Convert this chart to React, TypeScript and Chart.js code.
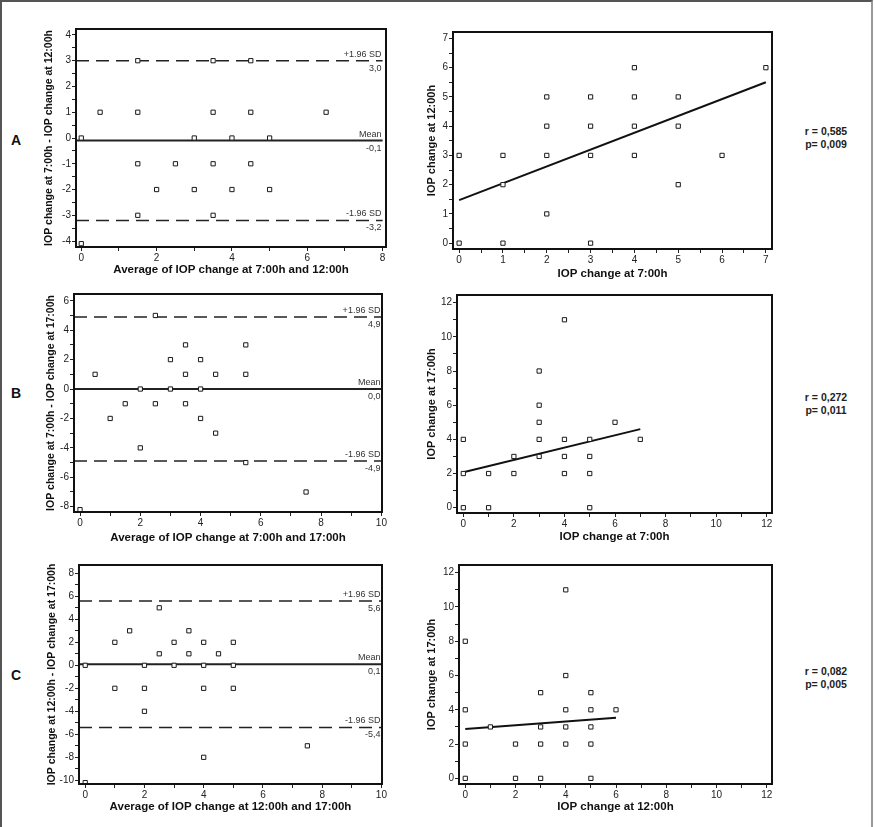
import React, { useEffect, useRef } from "react";
import { Chart, registerables } from "chart.js";

Chart.register(...registerables);

const FONT = "'Liberation Sans', Arial, Helvetica, sans-serif";

// ---------------- Panel A ----------------
const aBaAvg = [1.5, 3.5, 4.5, 0.5, 1.5, 3.5, 4.5, 6.5, 0, 3, 4, 5, 1.5, 2.5, 3.5, 4.5, 2, 3, 4, 5, 1.5, 3.5, 0];
const aBaDiff = [3, 3, 3, 1, 1, 1, 1, 1, 0, 0, 0, 0, -1, -1, -1, -1, -2, -2, -2, -2, -3, -3, -4.1];
const aBaLimits = [3.0, -0.1, -3.2];
const aBaLimitText = ["3,0", "-0,1", "-3,2"];
const aScX = [0, 0, 1, 1, 1, 2, 2, 2, 2, 3, 3, 3, 3, 4, 4, 4, 4, 5, 5, 5, 6, 7];
const aScY = [3, 0, 3, 2, 0, 5, 4, 3, 1, 5, 4, 3, 0, 6, 5, 4, 3, 5, 4, 2, 3, 6];
const aFitX = [0, 7];
const aFitY = [1.47, 5.5];
const aStats = ["r = 0,585", "p= 0,009"];

// ---------------- Panel B ----------------
const bBaAvg = [2.5, 3.5, 5.5, 3, 4, 0.5, 3.5, 4.5, 5.5, 2, 3, 4, 1.5, 2.5, 3.5, 1, 4, 4.5, 2, 5.5, 7.5, 0];
const bBaDiff = [5, 3, 3, 2, 2, 1, 1, 1, 1, 0, 0, 0, -1, -1, -1, -2, -2, -3, -4, -5, -7, -8.2];
const bBaLimits = [4.9, 0.0, -4.9];
const bBaLimitText = ["4,9", "0,0", "-4,9"];
const bScX = [0, 0, 0, 1, 1, 2, 2, 3, 3, 3, 3, 3, 4, 4, 4, 4, 5, 5, 5, 5, 6, 7];
const bScY = [4, 2, 0, 2, 0, 3, 2, 8, 6, 5, 4, 3, 11, 4, 3, 2, 4, 3, 2, 0, 5, 4];
const bFitX = [0, 7];
const bFitY = [2.07, 4.6];
const bStats = ["r = 0,272", "p= 0,011"];

// ---------------- Panel C ----------------
const cBaAvg = [2.5, 1.5, 3.5, 1, 3, 4, 5, 2.5, 3.5, 4.5, 0, 2, 3, 4, 5, 1, 2, 4, 5, 2, 7.5, 4, 0];
const cBaDiff = [5, 3, 3, 2, 2, 2, 2, 1, 1, 1, 0, 0, 0, 0, 0, -2, -2, -2, -2, -4, -7, -8, -10.2];
const cBaLimits = [5.6, 0.1, -5.4];
const cBaLimitText = ["5,6", "0,1", "-5,4"];
const cScX = [0, 0, 0, 0, 1, 2, 2, 3, 3, 3, 3, 4, 4, 4, 4, 4, 5, 5, 5, 5, 5, 6];
const cScY = [8, 4, 2, 0, 3, 2, 0, 5, 3, 2, 0, 11, 6, 4, 3, 2, 5, 4, 3, 2, 0, 4];
const cFitX = [0, 6];
const cFitY = [2.88, 3.54];
const cStats = ["r = 0,082", "p= 0,005"];

const limitNames = ["+1.96 SD", "Mean", "-1.96 SD"];

// ---------------- Tick labels ----------------
const aBaXLabels = [0, 2, 4, 6, 8];
const aBaYLabels = [-4, -3, -2, -1, 0, 1, 2, 3, 4];
const aScXLabels = [0, 1, 2, 3, 4, 5, 6, 7];
const aScYLabels = [0, 1, 2, 3, 4, 5, 6, 7];
const bBaXLabels = [0, 2, 4, 6, 8, 10];
const bBaYLabels = [-8, -6, -4, -2, 0, 2, 4, 6];
const cBaYLabels = [-10, -8, -6, -4, -2, 0, 2, 4, 6, 8];
const scXLabels12 = [0, 2, 4, 6, 8, 10, 12];
const scYLabels12 = [0, 2, 4, 6, 8, 10, 12];

function steps(labels: number[], step: number): number[] {
  const out: number[] = [];
  const a = labels[0];
  const b = labels[labels.length - 1];
  const n = Math.round((b - a) / step);
  for (let i = 0; i <= n; i++) out.push(a + i * step);
  return out;
}

type AxisSpec = {
  min: number;
  max: number;
  labels: number[];
  minor: number;
  title: string;
  titleSize: number;
};

type Geom = { l: number; t: number; r: number; b: number; yTitleX: number; xTitleY: number };

type PanelProps = {
  geom: Geom;
  x: AxisSpec;
  y: AxisSpec;
  px: number[];
  py: number[];
  fitX?: number[];
  fitY?: number[];
  limits?: number[];
  limitText?: string[];
  lineX?: number[];
};

function axisOpts(a: AxisSpec, isX: boolean, fitSize: number): any {
  const tickVals = steps(a.labels, a.minor);
  return {
    type: "linear",
    position: isX ? "bottom" : "left",
    min: a.min,
    max: a.max,
    afterBuildTicks: (s: any) => {
      s.ticks = tickVals.map((v) => ({ value: v }));
    },
    afterFit: (s: any) => {
      if (isX) s.height = fitSize;
      else s.width = fitSize;
    },
    ticks: {
      autoSkip: false,
      maxRotation: 0,
      minRotation: 0,
      padding: 1,
      font: { family: FONT, size: 10 },
      color: "#222",
      callback: (v: number) => (a.labels.indexOf(v) >= 0 ? String(v) : ""),
    },
    grid: {
      display: true,
      drawOnChartArea: false,
      drawTicks: true,
      tickLength: 4,
      color: "#222",
      lineWidth: 1,
    },
    border: { display: false },
    title: {
      display: true,
      text: a.title,
      font: { family: FONT, size: a.titleSize, weight: "bold" },
      color: "#111",
      padding: 0,
    },
  };
}

function Panel(p: PanelProps) {
  const ref = useRef<HTMLCanvasElement>(null);
  const g = p.geom;
  const padT = 8;
  const padR = 10;
  const cl = Math.floor(g.yTitleX - p.y.titleSize * 0.6);
  const ct = g.t - padT;
  const cr = g.r + padR;
  const cb = Math.ceil(g.xTitleY + p.x.titleSize * 0.6);
  const W = cr - cl;
  const H = cb - ct;

  useEffect(() => {
    const datasets: any[] = [];
    datasets.push({
      type: "scatter",
      data: p.px.map((v, i) => ({ x: v, y: p.py[i] })),
      pointStyle: "rect",
      pointRadius: 3,
      pointBackgroundColor: "#ffffff",
      pointBorderColor: "#1a1a1a",
      pointBorderWidth: 1,
      order: 0,
    });
    if (p.fitX && p.fitY) {
      datasets.push({
        type: "scatter",
        showLine: true,
        data: p.fitX.map((v, i) => ({ x: v, y: p.fitY![i] })),
        borderColor: "#111",
        borderWidth: 2,
        pointRadius: 0,
        fill: false,
        order: 1,
      });
    }
    if (p.limits && p.lineX) {
      p.limits.forEach((v, i) => {
        datasets.push({
          type: "scatter",
          showLine: true,
          data: p.lineX!.map((x) => ({ x, y: v })),
          borderColor: "#222",
          borderWidth: i === 1 ? 2 : 1.5,
          borderDash: i === 1 ? [] : [13, 7],
          pointRadius: 0,
          fill: false,
          order: 1,
        });
      });
    }

    const framePlugin = {
      id: "frame",
      afterDatasetsDraw(chart: any) {
        const { ctx, chartArea: a, scales } = chart;
        ctx.save();
        if (p.limits && p.limitText && p.lineX) {
          const xr = scales.x.getPixelForValue(p.lineX[1]) - 1;
          ctx.fillStyle = "#333";
          ctx.font = `9px ${FONT}`;
          ctx.textAlign = "right";
          p.limits.forEach((v, i) => {
            const y = scales.y.getPixelForValue(v);
            ctx.textBaseline = "bottom";
            ctx.fillText(limitNames[i], xr, y - 2);
            ctx.textBaseline = "top";
            ctx.fillText(p.limitText![i], xr, y + 3);
          });
        }
        ctx.strokeStyle = "#111";
        ctx.lineWidth = 2;
        ctx.strokeRect(a.left, a.top, a.right - a.left, a.bottom - a.top);
        ctx.restore();
      },
    };

    const chart = new Chart(ref.current as HTMLCanvasElement, {
      type: "scatter",
      data: { datasets },
      options: {
        animation: false,
        responsive: false,
        devicePixelRatio: 1,
        events: [],
        layout: { padding: { top: padT, right: padR, left: 0, bottom: 0 } },
        plugins: { legend: { display: false }, tooltip: { enabled: false } },
        scales: {
          x: axisOpts(p.x, true, cb - g.b),
          y: axisOpts(p.y, false, g.l - cl),
        },
      } as any,
      plugins: [framePlugin],
    });
    return () => chart.destroy();
  }, []);

  return (
    <canvas
      ref={ref}
      width={W}
      height={H}
      style={{ position: "absolute", left: cl, top: ct, width: W, height: H }}
    />
  );
}

function SideLabel({ text, cy }: { text: string; cy: number }) {
  return (
    <div
      style={{
        position: "absolute",
        left: 6,
        width: 20,
        top: cy - 9,
        height: 18,
        lineHeight: "18px",
        textAlign: "center",
        fontFamily: FONT,
        fontWeight: "bold",
        fontSize: 14,
        color: "#111",
      }}
    >
      {text}
    </div>
  );
}

function Stats({ lines, cy }: { lines: string[]; cy: number }) {
  return (
    <div
      style={{
        position: "absolute",
        left: 786,
        width: 80,
        top: cy - 6.5,
        lineHeight: "13px",
        textAlign: "center",
        fontFamily: FONT,
        fontWeight: "bold",
        fontSize: 10.5,
        color: "#222",
      }}
    >
      {lines.map((l, i) => (
        <div key={i}>{l}</div>
      ))}
    </div>
  );
}

export default function App() {
  const ys = 10.5;
  const yr = 11;
  const xs = 11.5;
  return (
    <div
      style={{
        position: "absolute",
        left: 0,
        top: 0,
        width: 875,
        height: 827,
        background: "#ffffff",
        overflow: "hidden",
      }}
    >
      <div
        style={{
          position: "absolute",
          left: 0,
          top: 0,
          width: 873,
          height: 827,
          boxSizing: "border-box",
          borderTop: "2px solid #555",
          borderLeft: "2px solid #555",
          borderRight: "2px solid #999",
        }}
      />
      {/* Row A */}
      <Panel
        geom={{ l: 76, t: 29, r: 386, b: 247, yTitleX: 50, xTitleY: 269.5 }}
        x={{ min: -0.14, max: 8.09, labels: aBaXLabels, minor: 1, title: "Average of IOP change at 7:00h and 12:00h", titleSize: xs }}
        y={{ min: -4.23, max: 4.23, labels: aBaYLabels, minor: 0.5, title: "IOP change at 7:00h - IOP change at 12:00h", titleSize: ys }}
        px={aBaAvg}
        py={aBaDiff}
        limits={aBaLimits}
        limitText={aBaLimitText}
        lineX={[-0.14, 8]}
      />
      <Panel
        geom={{ l: 453, t: 32, r: 772, b: 249, yTitleX: 432, xTitleY: 274 }}
        x={{ min: -0.14, max: 7.14, labels: aScXLabels, minor: 0.5, title: "IOP change at 7:00h", titleSize: xs }}
        y={{ min: -0.2, max: 7.22, labels: aScYLabels, minor: 0.5, title: "IOP change at 12:00h", titleSize: yr }}
        px={aScX}
        py={aScY}
        fitX={aFitX}
        fitY={aFitY}
      />
      {/* Row B */}
      <Panel
        geom={{ l: 74, t: 294, r: 382, b: 512, yTitleX: 52, xTitleY: 538 }}
        x={{ min: -0.2, max: 10.02, labels: bBaXLabels, minor: 1, title: "Average of IOP change at 7:00h and 17:00h", titleSize: xs }}
        y={{ min: -8.36, max: 6.46, labels: bBaYLabels, minor: 1, title: "IOP change at 7:00h - IOP change at 17:00h", titleSize: ys }}
        px={bBaAvg}
        py={bBaDiff}
        limits={bBaLimits}
        limitText={bBaLimitText}
        lineX={[-0.2, 10]}
      />
      <Panel
        geom={{ l: 457, t: 295, r: 772, b: 513, yTitleX: 432, xTitleY: 537 }}
        x={{ min: -0.25, max: 12.21, labels: scXLabels12, minor: 1, title: "IOP change at 7:00h", titleSize: xs }}
        y={{ min: -0.31, max: 12.45, labels: scYLabels12, minor: 1, title: "IOP change at 17:00h", titleSize: yr }}
        px={bScX}
        py={bScY}
        fitX={bFitX}
        fitY={bFitY}
      />
      {/* Row C */}
      <Panel
        geom={{ l: 79, t: 565, r: 382, b: 784, yTitleX: 53, xTitleY: 807 }}
        x={{ min: -0.21, max: 10.02, labels: bBaXLabels, minor: 1, title: "Average of IOP change at 12:00h and 17:00h", titleSize: xs }}
        y={{ min: -10.32, max: 8.72, labels: cBaYLabels, minor: 1, title: "IOP change at 12:00h - IOP change at 17:00h", titleSize: ys }}
        px={cBaAvg}
        py={cBaDiff}
        limits={cBaLimits}
        limitText={cBaLimitText}
        lineX={[-0.21, 10]}
      />
      <Panel
        geom={{ l: 459, t: 565, r: 772, b: 784, yTitleX: 432, xTitleY: 807 }}
        x={{ min: -0.25, max: 12.21, labels: scXLabels12, minor: 1, title: "IOP change at 12:00h", titleSize: xs }}
        y={{ min: -0.33, max: 12.45, labels: scYLabels12, minor: 1, title: "IOP change at 17:00h", titleSize: yr }}
        px={cScX}
        py={cScY}
        fitX={cFitX}
        fitY={cFitY}
      />
      <SideLabel text="A" cy={140} />
      <SideLabel text="B" cy={393} />
      <SideLabel text="C" cy={675} />
      <Stats lines={aStats} cy={131} />
      <Stats lines={bStats} cy={397} />
      <Stats lines={cStats} cy={671} />
    </div>
  );
}
